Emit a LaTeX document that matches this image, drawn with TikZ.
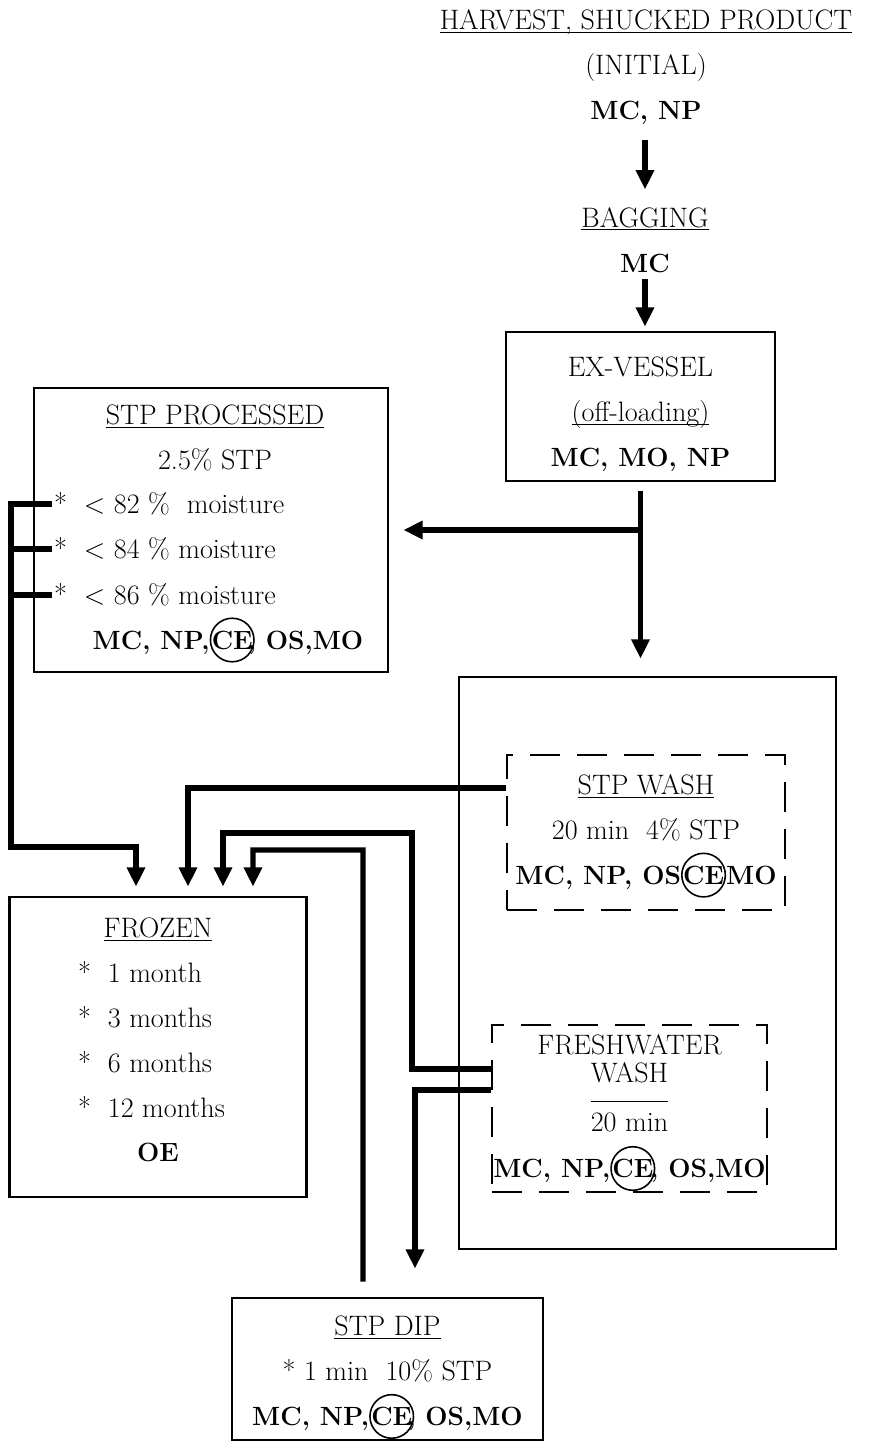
\documentclass[tikz,border=0pt]{standalone}
\usepackage{tikz}
\usetikzlibrary{positioning, arrows.meta, calc}

\newcommand{\ringed}[1]{\tikz[baseline=(rg.base)]\node[draw, solid, circle, line width=0.9pt, inner sep=-0.3pt, outer sep=0pt, minimum width=0pt, minimum height=0pt] (rg) {#1};}
\newcommand{\ul}[1]{\underline{\raisebox{0pt}[\height][0pt]{#1}}}
\newcommand{\codes}[1]{{\fontsize{15}{25.5}\selectfont\bfseries #1}}

\begin{document}
\begin{tikzpicture}[
    x=0.02cm, y=-0.02cm,
    txt/.style={align=center, inner sep=1pt, font=\fontsize{16}{25.5}\selectfont},
    box/.style={txt, draw=black, line width=1.6pt, inner sep=0pt},
    dbox/.style={box, dash pattern=on 0.6cm off 0.34cm},
    stem/.style={black, line width=3pt},
    arrow/.style={stem, -{Triangle[length=11pt, width=10pt]}}
]
\useasboundingbox (0,0) rectangle (869,1444);

% Header
\node[txt] (harvest) at (646,67) {\ul{HARVEST, SHUCKED PRODUCT}\\(INITIAL)\\\codes{MC, NP}};
\node[txt] (bagging) at (645,240) {\ul{BAGGING}\\\codes{MC}};

% Boxes
\node[box, minimum width=5.38cm, minimum height=2.98cm] (exv) at (640.5,406.5) {\rule{0pt}{20pt}EX-VESSEL\\\ul{(off-loading)}\\\codes{MC, MO, NP}};

\node[box, minimum width=7.08cm, minimum height=5.68cm] (stpproc) at (211,530) {};
\node[txt] (stptitle) at (215,438) {\ul{STP PROCESSED}\\2.5\% STP};
\node[txt, anchor=west] (m82) at (52,504) {*~~< 82 \%~~moisture};
\node[txt, anchor=west] (m84) at (52,549) {*~~< 84 \% moisture};
\node[txt, anchor=west] (m86) at (52,595) {*~~< 86 \% moisture};
\node[txt] (stpcodes) at (228,640) {\codes{MC, NP,\ringed{CE}\kern-4pt, OS,MO}};

\node[box, minimum width=7.54cm, minimum height=11.44cm] (washgroup) at (647.5,963) {};
\node[dbox, minimum width=5.56cm, minimum height=3.1cm] (stpwash) at (646,832.5) {\rule{0pt}{15.5pt}\ul{STP WASH}\\20 min\ \ 4\% STP\\\codes{MC, NP, OS\ringed{CE}MO}};
\node[dbox, minimum width=5.5cm, minimum height=3.34cm] (fresh) at (629.5,1108.5) {\rule{0pt}{16.5pt}FRESHWATER\\[-9.6pt]\underline{\raisebox{0pt}[\height][9pt]{WASH}}\\[2.3pt]20 min\\[0.6pt]\codes{MC, NP,\ringed{CE}\kern-3pt, OS,MO}};

\node[box, minimum width=5.94cm, minimum height=6cm] (frozen) at (158,1047) {\ul{FROZEN}\\\makebox[3.2cm][l]{*~~1 month}\\\makebox[3.2cm][l]{*~~3 months}\\\makebox[3.2cm][l]{*~~6 months}\\\makebox[3.2cm][l]{*~~12 months}\\\codes{OE}\rule[-8pt]{0pt}{8pt}};

\node[box, minimum width=6.22cm, minimum height=2.84cm] (dip) at (387.5,1369) {\rule{0pt}{21pt}\ul{STP DIP}\\*~1 min\ \ 10\% STP\\\codes{MC, NP,\ringed{CE}\kern-4pt, OS,MO}};

% Entry points on FROZEN
\coordinate (lbus) at (11,847);
\coordinate (fzA) at ([xshift=-0.44cm]frozen.north);
\coordinate (fzB) at ([xshift=0.6cm]frozen.north);
\coordinate (fzC) at ([xshift=1.3cm]frozen.north);
\coordinate (fzD) at ([xshift=1.9cm]frozen.north);

% Top chain
\draw[arrow, shorten <=0.28cm, shorten >=0.32cm] (bagging.north |- harvest.south) -- (bagging.north);
\draw[arrow, shorten <=0.08cm, shorten >=0.08cm] (bagging.south) -- (bagging.south |- exv.north);

% Ex-vessel split
\draw[arrow, shorten <=0.18cm, shorten >=0.34cm] (exv.south) -- (exv.south |- washgroup.north);
\draw[arrow, shorten >=0.28cm] (exv.south |- stpproc.east) -- (stpproc.east);

% STP processed to frozen
\draw[arrow, shorten >=0.18cm] (m82.west) -| (lbus) -| (fzA);
\draw[stem] (m84.west) -- (m84.west -| lbus);
\draw[stem] (m86.west) -- (m86.west -| lbus);

% STP wash to frozen
\draw[arrow, shorten >=0.18cm] ([yshift=0.89cm]stpwash.west) -| (fzB);

% Freshwater wash to frozen and dip
\draw[arrow, shorten >=0.18cm] ([yshift=0.79cm]fresh.west) -| (412,833) -| (fzC);
\draw[arrow, shorten >=0.56cm] ([yshift=0.37cm]fresh.west) -| ([xshift=0.55cm]dip.north);

% STP dip to frozen
\draw[arrow, shorten <=0.3cm, shorten >=0.18cm] ([xshift=-0.49cm]dip.north) |- (253,850) -- (fzD);

\end{tikzpicture}
\end{document}
